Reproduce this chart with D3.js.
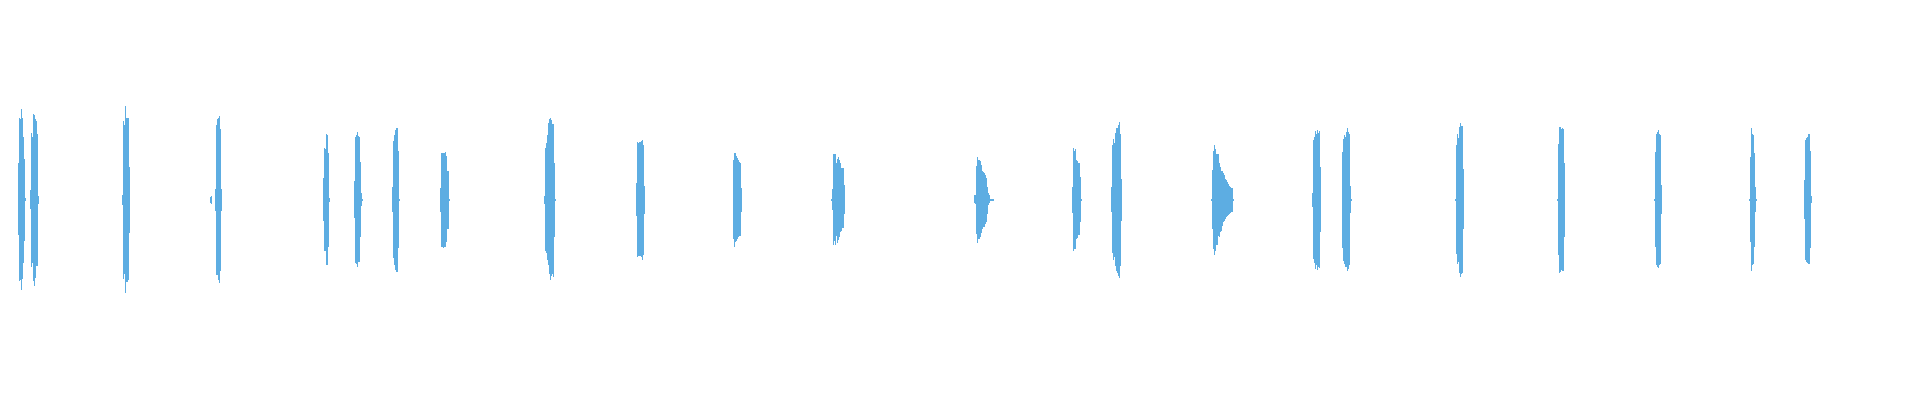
<!DOCTYPE html>
<html>
<head>
<meta charset="utf-8">
<script src="https://cdn.jsdelivr.net/npm/d3@7"></script>
<style>
  html, body { margin: 0; padding: 0; background: #fff; }
  svg { display: block; }
</style>
</head>
<body>
<svg id="wave"></svg>
<script>
// waveform, drawn as min/max per column
const width = 1920;
const height = 400;
const sampleCount = 1920;

// column index where each burst starts
const burstStarts = [18, 30, 122, 210, 215, 323, 354, 392, 440, 544, 636, 733, 831, 974,
    1072, 1111, 1211, 1312, 1342, 1455, 1557, 1654, 1749, 1804];

// upper envelope (max) of every column in a burst
const burstMax = [
    [0.185, 0.41, 0.405, 0.455, 0.41, 0.315, 0.205, 0.01],
    [0.05, 0.335, 0.315, 0.43, 0.425, 0.405, 0.395, 0.33, 0.02],
    [0.025, 0.395, 0.375, 0.47, 0.41, 0.41, 0.41, 0.165],
    [0.015, 0.02],
    [0.055, 0.375, 0.405, 0.41, 0.42, 0.355, 0.055],
    [0.11, 0.26, 0.255, 0.33, 0.325, 0.235, 0.01],
    [0.095, 0.315, 0.325, 0.34, 0.32, 0.315, 0.19, 0.035, 0.005],
    [0.065, 0.295, 0.325, 0.35, 0.36, 0.36, 0.245, 0.005],
    [0.06, 0.235, 0.235, 0.235, 0.235, 0.24, 0.22, 0.145, 0.145, 0.005],
    [0.02, 0.26, 0.285, 0.325, 0.385, 0.405, 0.41, 0.4, 0.38, 0.38, 0.185, 0.005],
    [0.085, 0.29, 0.285, 0.29, 0.29, 0.295, 0.3, 0.275, 0.07],
    [0.2, 0.235, 0.235, 0.22, 0.21, 0.2, 0.19, 0.185, 0.06],
    [0.005, 0.055, 0.23, 0.23, 0.23, 0.185, 0.205, 0.215, 0.2, 0.185, 0.16, 0.16, 0.16, 0.075],
    [0.025, 0.025, 0.17, 0.215, 0.2, 0.2, 0.195, 0.175, 0.145, 0.14, 0.135, 0.125, 0.11, 0.065, 0.035, 0.025, 0.005, 0.005, 0.005, 0.005],
    [0.065, 0.26, 0.245, 0.255, 0.2, 0.195, 0.185, 0.185, 0.115, 0.005],
    [0.065, 0.275, 0.305, 0.285, 0.335, 0.36, 0.36, 0.375, 0.39, 0.33, 0.105],
    [0.005, 0.15, 0.245, 0.275, 0.255, 0.23, 0.23, 0.23, 0.185, 0.165, 0.145, 0.145, 0.135, 0.125, 0.105, 0.1, 0.09, 0.08, 0.07, 0.065, 0.06, 0.06, 0.005],
    [0.035, 0.3, 0.315, 0.345, 0.33, 0.35, 0.335, 0.345, 0.165],
    [0.24, 0.305, 0.325, 0.315, 0.34, 0.36, 0.34, 0.33, 0.07, 0.005],
    [0.005, 0.275, 0.33, 0.31, 0.365, 0.385, 0.37, 0.37, 0.155],
    [0.005, 0.28, 0.365, 0.365, 0.355, 0.36, 0.355, 0.185],
    [0.005, 0.24, 0.33, 0.34, 0.35, 0.33, 0.325, 0.075],
    [0.005, 0.215, 0.36, 0.33, 0.325, 0.235, 0.065, 0.005],
    [0.1, 0.3, 0.31, 0.315, 0.33, 0.33, 0.245, 0.02]
];

// lower envelope (min) of every column in a burst
const burstMin = [
    [-0.175, -0.405, -0.4, -0.45, -0.395, -0.315, -0.205, -0.005],
    [-0.045, -0.335, -0.315, -0.405, -0.43, -0.39, -0.33, -0.33, -0.02],
    [-0.025, -0.395, -0.37, -0.465, -0.41, -0.41, -0.4, -0.165],
    [-0.015, -0.02],
    [-0.055, -0.375, -0.375, -0.4, -0.415, -0.355, -0.055],
    [-0.105, -0.255, -0.255, -0.325, -0.325, -0.235, -0.01],
    [-0.09, -0.315, -0.32, -0.335, -0.31, -0.31, -0.185, -0.03, -0.005],
    [-0.06, -0.29, -0.325, -0.35, -0.36, -0.36, -0.24, -0.005],
    [-0.06, -0.235, -0.235, -0.24, -0.235, -0.235, -0.21, -0.145, -0.145, -0.005],
    [-0.02, -0.255, -0.265, -0.3, -0.325, -0.37, -0.4, -0.38, -0.37, -0.385, -0.185, -0.005],
    [-0.08, -0.285, -0.28, -0.28, -0.28, -0.285, -0.3, -0.275, -0.07],
    [-0.195, -0.235, -0.21, -0.205, -0.195, -0.185, -0.18, -0.18, -0.06],
    [-0.005, -0.05, -0.225, -0.205, -0.225, -0.18, -0.215, -0.2, -0.185, -0.16, -0.155, -0.14, -0.14, -0.07],
    [-0.015, -0.02, -0.17, -0.215, -0.195, -0.195, -0.185, -0.165, -0.145, -0.135, -0.135, -0.12, -0.11, -0.07, -0.025, -0.015, -0.005, -0.005, -0.005, -0.005],
    [-0.065, -0.255, -0.245, -0.245, -0.195, -0.19, -0.175, -0.175, -0.11, -0.005],
    [-0.06, -0.265, -0.3, -0.285, -0.33, -0.355, -0.365, -0.38, -0.39, -0.33, -0.105],
    [-0.005, -0.145, -0.245, -0.275, -0.255, -0.225, -0.225, -0.18, -0.185, -0.16, -0.155, -0.13, -0.11, -0.105, -0.095, -0.085, -0.08, -0.075, -0.07, -0.065, -0.06, -0.06, -0.005],
    [-0.035, -0.295, -0.315, -0.345, -0.325, -0.35, -0.335, -0.34, -0.16],
    [-0.24, -0.305, -0.32, -0.335, -0.335, -0.355, -0.345, -0.325, -0.065, -0.005],
    [-0.005, -0.27, -0.32, -0.31, -0.365, -0.385, -0.37, -0.365, -0.145],
    [-0.005, -0.275, -0.365, -0.36, -0.35, -0.355, -0.355, -0.185],
    [-0.005, -0.235, -0.325, -0.335, -0.34, -0.325, -0.32, -0.07],
    [-0.005, -0.21, -0.355, -0.325, -0.32, -0.235, -0.06, -0.005],
    [-0.095, -0.3, -0.31, -0.315, -0.32, -0.32, -0.24, -0.015]
];

const waveColor = '#5dade2';

// flatten bursts into column records
const columns = [];
burstStarts.forEach((start, b) => {
    burstMax[b].forEach((hi, k) => {
        columns.push({i: start + k, hi, lo: burstMin[b][k]});
    });
});

const x = d3.scaleLinear().domain([0, sampleCount]).range([0, width]);
const y = d3.scaleLinear().domain([-1, 1]).range([height, 0]);

const svg = d3.select('#wave')
    .attr('width', width)
    .attr('height', height);

svg.append('g')
    .classed('wave', true)
    .attr('fill', waveColor)
    .attr('shape-rendering', 'crispEdges')
    .selectAll('rect')
    .data(columns)
    .enter()
    .append('rect')
    .attr('x', d => x(d.i))
    .attr('width', d => x(d.i + 1) - x(d.i))
    .attr('y', d => y(d.hi))
    .attr('height', d => Math.max(1, y(d.lo) - y(d.hi)));
</script>
</body>
</html>
